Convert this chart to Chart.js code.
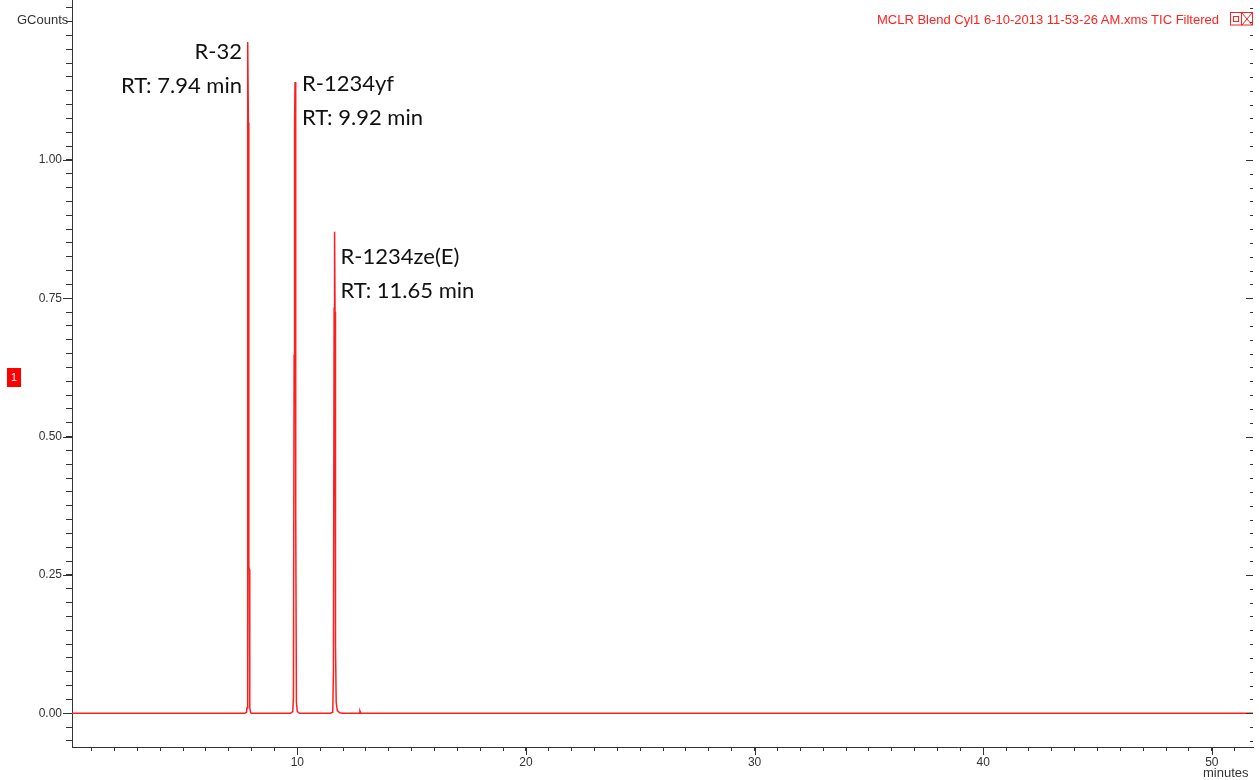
<!DOCTYPE html>
<html>
<head>
<meta charset="utf-8">
<script src="https://cdn.jsdelivr.net/npm/chart.js@4.4.1/dist/chart.umd.min.js"></script>
<style>
  html, body { margin: 0; padding: 0; background: #fff; }
  #wrap { position: relative; width: 1260px; height: 780px; overflow: hidden; }
  canvas { position: absolute; left: 0; top: 0; }
  .t { position: absolute; font-family: "Liberation Sans", Arial, sans-serif; font-size: 13px; white-space: nowrap; line-height: 15px; }
</style>
</head>
<body>
<div id="wrap">
  <canvas id="c" width="1260" height="780"></canvas>
  <div class="t" style="left:17px; top:12px; color:#333;">GCounts</div>
  <div class="t" id="title" style="right:41px; top:12px; color:#f22;">MCLR Blend Cyl1 6-10-2013 11-53-26 AM.xms TIC Filtered</div>
  <svg style="position:absolute; left:1229px; top:11px;" width="26" height="16" viewBox="0 0 26 16">
    <rect x="1.5" y="1.5" width="11" height="12.5" fill="none" stroke="#f22" stroke-width="1"/>
    <rect x="4.5" y="5.5" width="5" height="5" fill="none" stroke="#f22" stroke-width="1"/>
    <rect x="12.5" y="1.5" width="11" height="12.5" fill="none" stroke="#f22" stroke-width="1"/>
    <line x1="13" y1="2" x2="23" y2="14" stroke="#f22" stroke-width="1"/>
    <line x1="23" y1="2" x2="13" y2="14" stroke="#f22" stroke-width="1"/>
  </svg>
  <div class="t" style="left:7px; top:368px; width:14px; height:19px; line-height:19px; background:#f00; color:#fff; font-size:11px; text-align:center;">1</div>
  <div class="t" style="left:1203px; top:765px; color:#333;">minutes</div>
</div>
<script>
// ---- data ----
const timeMin = [0.145, 7.70, 7.78, 7.80, 7.82, 7.84, 7.86, 7.88, 7.90, 7.92, 7.96, 8.00,
                 9.70, 9.80, 9.83, 9.86, 9.88, 9.90, 9.92, 9.94, 9.96, 10.00, 10.10,
                 11.45, 11.55, 11.58, 11.61, 11.63, 11.65, 11.67, 11.70, 11.75, 11.85, 12.00,
                 12.70, 12.74, 12.78, 51.80];
const ticCounts = [0.000, 0.000, 0.002, 0.010, 1.067, 1.213, 1.067, 0.265, 0.260, 0.010, 0.001, 0.000,
                   0.000, 0.003, 0.030, 0.647, 1.063, 1.141, 1.063, 0.362, 0.020, 0.003, 0.000,
                   0.000, 0.002, 0.078, 0.732, 0.870, 0.725, 0.124, 0.020, 0.005, 0.001, 0.000,
                   0.000, 0.004, 0.000, 0.000];
const peakNames = ["R-32", "R-1234yf", "R-1234ze(E)"];
const peakRT = ["RT: 7.94 min", "RT: 9.92 min", "RT: 11.65 min"];
const peakTime = [7.84, 9.90, 11.63];
const peakTop = [1.213, 1.141, 0.870];
const yTickLabels = ["0.00", "0.25", "0.50", "0.75", "1.00"];
const xTickLabels = ["10", "20", "30", "40", "50"];

const points = timeMin.map((t, i) => ({ x: t, y: ticCounts[i] }));

// label layout (pixel offsets relative to the peak apex)
const labelLayout = [
  { align: "right", dx: -6, dy: 10 },
  { align: "left",  dx: 7,  dy: 2 },
  { align: "left",  dx: 6,  dy: 25 }
];

const tickFont = { family: "'Liberation Sans', Arial, sans-serif", size: 12 };

const extraTicks = {
  id: "extraTicks",
  afterDraw(chart) {
    const ctx = chart.ctx, ca = chart.chartArea;
    const ys = chart.scales.y, xs = chart.scales.x;
    ctx.save();
    ctx.strokeStyle = "#333";
    ctx.lineWidth = 1;
    ys.ticks.forEach(t => {
      const py = Math.round(ys.getPixelForValue(t.value)) + 0.5;
      const major = yTickLabels.includes(t.value.toFixed(2)) && Math.abs(t.value * 4 - Math.round(t.value * 4)) < 1e-6;
      ctx.beginPath();
      if (major) { ctx.moveTo(ca.left - 9, py); ctx.lineTo(ca.left, py); }
      ctx.moveTo(ca.right - (major ? 7 : 3), py); ctx.lineTo(ca.right, py);
      ctx.stroke();
    });
    xs.ticks.forEach(t => {
      if (xTickLabels.includes(String(Math.round(t.value))) && Math.abs(t.value % 10) < 1e-6) {
        const px = Math.round(xs.getPixelForValue(t.value)) + 0.5;
        ctx.beginPath(); ctx.moveTo(px, ca.bottom); ctx.lineTo(px, ca.bottom + 8); ctx.stroke();
      }
    });
    ctx.restore();
  }
};

const peakLabels = {
  id: "peakLabels",
  afterDatasetsDraw(chart) {
    const ctx = chart.ctx;
    const xs = chart.scales.x, ys = chart.scales.y;
    ctx.save();
    ctx.fillStyle = "#111";
    ctx.font = "22px Lato, 'Open Sans', sans-serif";
    ctx.textBaseline = "middle";
    peakNames.forEach((name, i) => {
      const L = labelLayout[i];
      const px = xs.getPixelForValue(peakTime[i]) + L.dx;
      const py = ys.getPixelForValue(peakTop[i]) + L.dy;
      ctx.textAlign = L.align;
      ctx.fillText(name, px, py);
      ctx.fillText(peakRT[i], px, py + 34);
    });
    ctx.restore();
  }
};

new Chart(document.getElementById("c"), {
  type: "line",
  data: {
    datasets: [{
      data: points,
      borderColor: "rgb(255,30,30)",
      borderWidth: 1.5,
      pointRadius: 0,
      tension: 0,
      fill: false
    }]
  },
  options: {
    responsive: false,
    animation: false,
    events: [],
    layout: { padding: { top: 0, right: 7, bottom: 0, left: 0 }, autoPadding: false },
    plugins: { legend: { display: false }, tooltip: { enabled: false } },
    scales: {
      x: {
        type: "linear",
        min: 0.145, max: 51.8,
        afterFit: s => { s.height = 33; s.paddingLeft = 0; s.paddingRight = 0; },
        border: { display: true, color: "#333", width: 1 },
        grid: { display: true, drawOnChartArea: false, drawTicks: true, tickLength: 4, tickColor: "#333" },
        ticks: {
          stepSize: 1, autoSkip: false, includeBounds: false, maxRotation: 0,
          padding: 4, color: "#333", font: tickFont,
          callback: v => { const s = String(Math.round(v)); return (Math.abs(v % 10) < 1e-6 && xTickLabels.includes(s)) ? s : ""; }
        }
      },
      y: {
        type: "linear",
        min: -0.0609, max: 1.289,
        afterFit: s => { s.width = 72; s.paddingTop = 0; s.paddingBottom = 0; },
        border: { display: true, color: "#333", width: 1 },
        grid: { display: true, drawOnChartArea: false, drawTicks: true, tickLength: 6, tickColor: "#333" },
        ticks: {
          stepSize: 0.025, autoSkip: false, includeBounds: false,
          padding: 4, color: "#333", font: tickFont,
          callback: v => { const s = v.toFixed(2); return (Math.abs(v * 4 - Math.round(v * 4)) < 1e-6 && yTickLabels.includes(s)) ? s : ""; }
        }
      }
    }
  },
  plugins: [extraTicks, peakLabels]
});
</script>
</body>
</html>
